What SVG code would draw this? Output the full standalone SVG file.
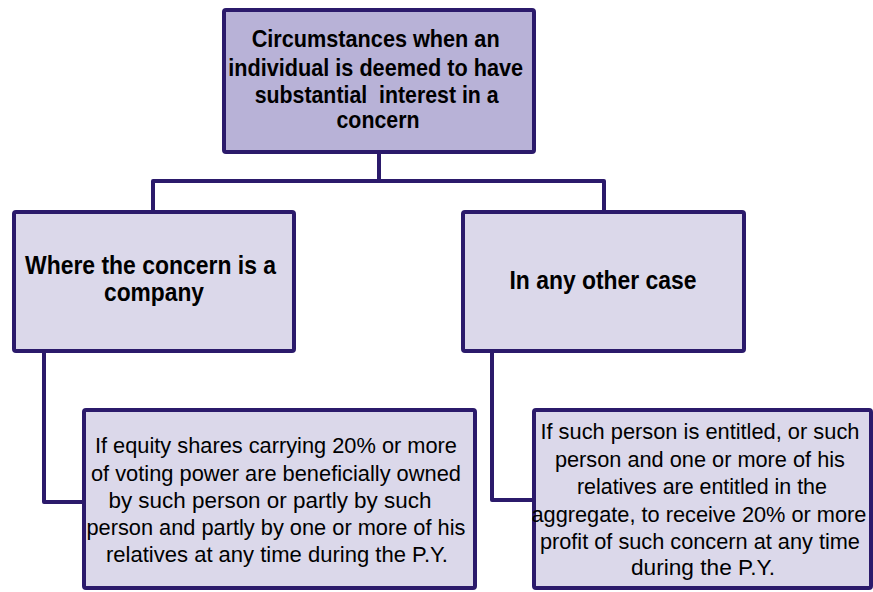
<svg xmlns="http://www.w3.org/2000/svg" width="873" height="592" viewBox="0 0 873 592">
<style>
.box{stroke:#2b1a6b;stroke-width:4;stroke-linejoin:round}
.top{fill:#b8b2d7}
.sub{fill:#dbd8ea}
.con{fill:none;stroke:#2b1a6b;stroke-width:4;stroke-linejoin:round}
.b{font-family:"Liberation Sans Narrow","Liberation Sans",Arial,sans-serif;font-weight:bold;fill:#000;text-anchor:middle}
.r{font-family:"Liberation Sans Narrow","Liberation Sans",Arial,sans-serif;font-size:22px;fill:#000;text-anchor:middle}
</style>
<rect width="873" height="592" fill="#fff"/>
<g id="connectors">
<path class="con" d="M153,210 V181 H604 V210"/>
<path class="con" d="M379,152 V181"/>
<path class="con" d="M44,353 V502 H84"/>
<path class="con" d="M492,353 V500 H534"/>
</g>
<g id="root">
<rect class="box top" x="224" y="10" width="310" height="142" rx="2"/>
<text class="b" font-size="24">
<tspan x="379" y="47" textLength="248" lengthAdjust="spacingAndGlyphs">Circumstances when an</tspan>
<tspan x="379" y="76" textLength="295" lengthAdjust="spacingAndGlyphs">individual is deemed to have</tspan>
<tspan x="380" y="103" textLength="244" lengthAdjust="spacingAndGlyphs" xml:space="preserve">substantial  interest in a</tspan>
<tspan x="378" y="128" textLength="83" lengthAdjust="spacingAndGlyphs">concern</tspan>
</text>
</g>
<g id="company">
<rect class="box sub" x="14" y="212" width="280" height="139" rx="2"/>
<text class="b" font-size="25">
<tspan x="154" y="274" textLength="251" lengthAdjust="spacingAndGlyphs">Where the concern is a</tspan>
<tspan x="154" y="301" textLength="100" lengthAdjust="spacingAndGlyphs">company</tspan>
</text>
</g>
<g id="other">
<rect class="box sub" x="463" y="212" width="281" height="139" rx="2"/>
<text class="b" font-size="25"><tspan x="603" y="289" textLength="187" lengthAdjust="spacingAndGlyphs">In any other case</tspan></text>
</g>
<g id="company-detail">
<rect class="box sub" x="84" y="410" width="391" height="178" rx="2"/>
<text class="r">
<tspan x="279" y="453" textLength="362" lengthAdjust="spacingAndGlyphs">If equity shares carrying 20% or more</tspan>
<tspan x="279" y="481" textLength="370" lengthAdjust="spacingAndGlyphs">of voting power are beneficially owned</tspan>
<tspan x="273" y="508" textLength="323" lengthAdjust="spacingAndGlyphs">by such person or partly by such</tspan>
<tspan x="279" y="535" textLength="379" lengthAdjust="spacingAndGlyphs">person and partly by one or more of his</tspan>
<tspan x="277" y="562" textLength="342" lengthAdjust="spacingAndGlyphs">relatives at any time during the P.Y.</tspan>
</text>
</g>
<g id="other-detail">
<rect class="box sub" x="534" y="410" width="337" height="178" rx="2"/>
<text class="r">
<tspan x="703" y="439" textLength="319" lengthAdjust="spacingAndGlyphs">If such person is entitled, or such</tspan>
<tspan x="703" y="467" textLength="290" lengthAdjust="spacingAndGlyphs">person and one or more of his</tspan>
<tspan x="705" y="494" textLength="250" lengthAdjust="spacingAndGlyphs">relatives are entitled in the</tspan>
<tspan x="702" y="522" textLength="335" lengthAdjust="spacingAndGlyphs">aggregate, to receive 20% or more</tspan>
<tspan x="703" y="549" textLength="320" lengthAdjust="spacingAndGlyphs">profit of such concern at any time</tspan>
<tspan x="703" y="575" textLength="144" lengthAdjust="spacingAndGlyphs">during the P.Y.</tspan>
</text>
</g>
</svg>
